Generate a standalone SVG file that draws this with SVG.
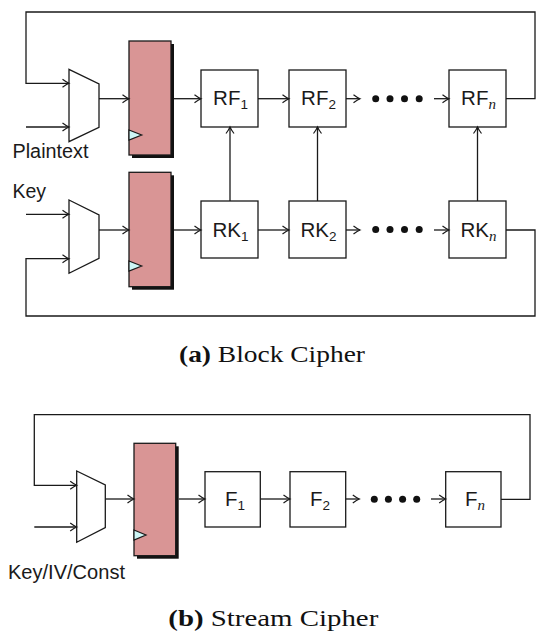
<svg xmlns="http://www.w3.org/2000/svg" width="536" height="632" viewBox="0 0 536 632">
<style>
.ln{fill:none;stroke:#1a1a1a;stroke-width:1.3}
.ar{marker-end:url(#arr)}
.box{fill:#fff;stroke:#1a1a1a;stroke-width:1.3}
.mux{fill:#fff;stroke:#1a1a1a;stroke-width:1.3;stroke-linejoin:miter}
.reg{fill:#d99595;stroke:#1a1a1a;stroke-width:1.3}
.sh{fill:#111}
.clk{fill:#cdf6f6;stroke:#1a1a1a;stroke-width:1.2}
.lbl{font-family:"Liberation Sans","DejaVu Sans",sans-serif;font-size:19.5px;fill:#1a1a1a}
.bl{font-family:"Liberation Sans","DejaVu Sans",sans-serif;font-size:20.5px;fill:#1a1a1a;text-anchor:middle}
.sub{font-size:13.5px}
.it{font-family:"Liberation Serif",serif;font-style:italic;font-size:15px}
.cap{font-family:"Liberation Serif","DejaVu Serif",serif;font-size:24px;fill:#111}
.dot{fill:#111}
</style>
<defs>
<marker id="arr" markerUnits="userSpaceOnUse" markerWidth="12" markerHeight="12" viewBox="-8 -6 10 12" refX="0" refY="0" orient="auto">
<path d="M -6.5 -4 Q -2.5 -1 0 0 Q -2.5 1 -6.5 4" fill="none" stroke="#1a1a1a" stroke-width="1.2"/>
</marker>
</defs>

<!-- ===== (a) Block cipher ===== -->
<g id="mux1"><polygon class="mux" points="69,69.3 99,84 99,127.3 69,141.7"/></g>
<g id="reg1">
<rect class="sh" x="132" y="44" width="42" height="114"/>
<rect class="reg" x="129" y="41" width="42" height="114"/>
<polygon class="clk" points="129,130 141.7,135 129,140"/>
</g>
<g id="rf1"><rect class="box" x="201" y="70" width="57" height="57"/><text class="bl" x="230.5" y="105">RF<tspan class="sub" dy="4">1</tspan></text></g>
<g id="rf2"><rect class="box" x="289" y="70" width="57" height="57"/><text class="bl" x="318.5" y="105">RF<tspan class="sub" dy="4">2</tspan></text></g>
<g id="rfn"><rect class="box" x="449" y="70" width="57" height="57"/><text class="bl" x="478.5" y="105">RF<tspan class="it" dy="4">n</tspan></text></g>
<g id="dots1"><circle class="dot" cx="375.7" cy="98.7" r="3.5"/><circle class="dot" cx="390" cy="98.7" r="3.5"/><circle class="dot" cx="404.5" cy="98.7" r="3.5"/><circle class="dot" cx="419.2" cy="98.7" r="3.5"/></g>
<g id="plaintext"><text class="lbl" x="12.5" y="157.5" textLength="76" lengthAdjust="spacingAndGlyphs">Plaintext</text></g>

<g id="mux2"><polygon class="mux" points="69,200 99,215 99,258.3 69,273.3"/></g>
<g id="reg2">
<rect class="sh" x="132" y="175.3" width="42" height="114.4"/>
<rect class="reg" x="129" y="172.3" width="42" height="114.4"/>
<polygon class="clk" points="129,261 141.7,266 129,271"/>
</g>
<g id="rk1"><rect class="box" x="201" y="201" width="57" height="57"/><text class="bl" x="230.5" y="236.5">RK<tspan class="sub" dy="4">1</tspan></text></g>
<g id="rk2"><rect class="box" x="289" y="201" width="57" height="57"/><text class="bl" x="318.5" y="236.5">RK<tspan class="sub" dy="4">2</tspan></text></g>
<g id="rkn"><rect class="box" x="449" y="201" width="57" height="57"/><text class="bl" x="478.5" y="236.5">RK<tspan class="it" dy="4">n</tspan></text></g>
<g id="dots2"><circle class="dot" cx="375.7" cy="229.5" r="3.5"/><circle class="dot" cx="390" cy="229.5" r="3.5"/><circle class="dot" cx="404.5" cy="229.5" r="3.5"/><circle class="dot" cx="419.2" cy="229.5" r="3.5"/></g>
<g id="key"><text class="lbl" x="12.5" y="197.5">Key</text></g>

<g id="cap-a"><text class="cap" x="179" y="361.5" textLength="186" lengthAdjust="spacingAndGlyphs"><tspan font-weight="bold">(a)</tspan> Block Cipher</text></g>

<!-- ===== (b) Stream cipher ===== -->
<g id="mux3"><polygon class="mux" points="76.7,471 105.3,485 105.3,527.7 76.7,542.3"/></g>
<g id="reg3">
<rect class="sh" x="137" y="446.3" width="41.7" height="112.4"/>
<rect class="reg" x="134" y="443.3" width="41.7" height="112.4"/>
<polygon class="clk" points="134,530 146,535 134,540"/>
</g>
<g id="f1"><rect class="box" x="205" y="471.7" width="55.3" height="55.3"/><text class="bl" x="235" y="505.5">F<tspan class="sub" dy="4">1</tspan></text></g>
<g id="f2"><rect class="box" x="290" y="471.7" width="55.7" height="55.3"/><text class="bl" x="320" y="505.5">F<tspan class="sub" dy="4">2</tspan></text></g>
<g id="fn"><rect class="box" x="445.7" y="471.7" width="55.3" height="55.3"/><text class="bl" x="475" y="505.5">F<tspan class="it" dy="4">n</tspan></text></g>
<g id="dots3"><circle class="dot" cx="374.3" cy="499.3" r="3.5"/><circle class="dot" cx="388.4" cy="499.3" r="3.5"/><circle class="dot" cx="402.6" cy="499.3" r="3.5"/><circle class="dot" cx="416.7" cy="499.3" r="3.5"/></g>
<g id="keyiv"><text class="lbl" x="8" y="578.5" textLength="117" lengthAdjust="spacingAndGlyphs">Key/IV/Const</text></g>

<g id="cap-b"><text class="cap" x="168.3" y="626" textLength="210" lengthAdjust="spacingAndGlyphs"><tspan font-weight="bold">(b)</tspan> Stream Cipher</text></g>

<!-- ===== connectors ===== -->
<g id="connectors">
<path class="ln ar" d="M 506 98.7 H 535 V 12 H 26 V 83.3 H 69"/>
<path class="ln ar" d="M 26 127 H 69"/>
<path class="ln ar" d="M 99 98.7 H 129"/>
<path class="ln ar" d="M 174 98.7 H 201"/>
<path class="ln ar" d="M 258 98.7 H 289"/>
<path class="ln ar" d="M 346 98.7 H 360"/>
<path class="ln ar" d="M 434 98.7 H 449"/>
<path class="ln ar" d="M 230 201 V 127"/>
<path class="ln ar" d="M 317.5 201 V 127"/>
<path class="ln ar" d="M 477.5 201 V 127"/>

<path class="ln ar" d="M 26 214.3 H 69"/>
<path class="ln ar" d="M 506 230 H 535 V 316 H 26 V 258.7 H 69"/>
<path class="ln ar" d="M 99 230 H 129"/>
<path class="ln ar" d="M 174 230 H 201"/>
<path class="ln ar" d="M 258 230 H 289"/>
<path class="ln ar" d="M 346 230 H 360"/>
<path class="ln ar" d="M 434 230 H 449"/>

<path class="ln ar" d="M 501 499.3 H 530 V 414.7 H 34.3 V 485.3 H 76.7"/>
<path class="ln ar" d="M 34.3 527 H 76.7"/>
<path class="ln ar" d="M 105.3 499 H 134"/>
<path class="ln ar" d="M 178.7 499 H 205"/>
<path class="ln ar" d="M 260.3 499 H 290"/>
<path class="ln ar" d="M 345.7 499 H 359.3"/>
<path class="ln ar" d="M 431 499 H 445.7"/>
</g>
</svg>
